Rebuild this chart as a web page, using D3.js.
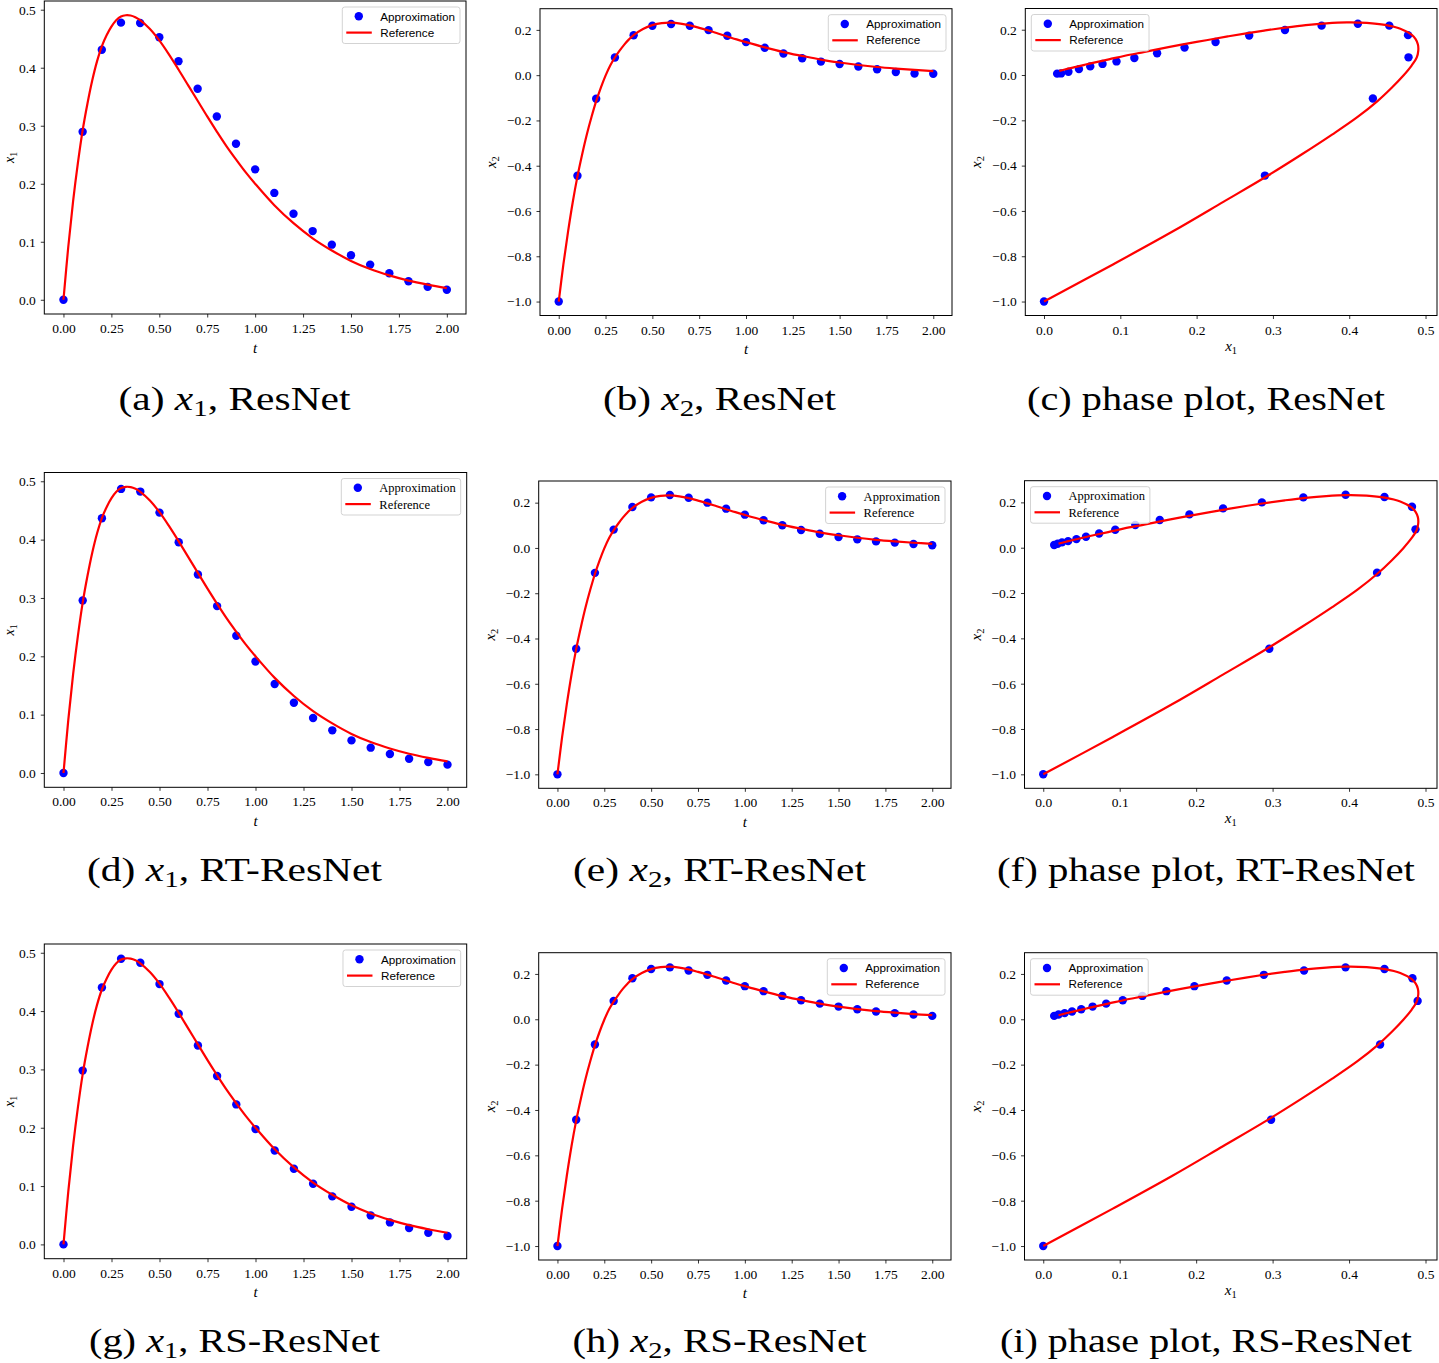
<!DOCTYPE html>
<html><head><meta charset="utf-8">
<script src="https://cdn.jsdelivr.net/npm/d3@7"></script>
<style>
body{margin:0;background:#fff;}
svg{display:block;}
</style></head><body>
<svg id="fig" width="1439" height="1363"></svg>
<script>
// ---------------- data ----------------
const tApprox = [0,0.1,0.2,0.3,0.4,0.5,0.6,0.7,0.8,0.9,1.0,1.1,1.2,1.3,1.4,1.5,1.6,1.7,1.8,1.9,2.0];

const x1ResNet = [0,0.2895,0.431,0.4777,0.4771,0.4525,0.4113,0.3638,0.3158,0.2689,0.2248,0.1842,0.1482,0.1184,0.095,0.0767,0.0606,0.0458,0.032,0.0223,0.0172];
const x2ResNet = [-1.0,-0.444,-0.104,0.078,0.176,0.218,0.226,0.218,0.199,0.174,0.146,0.121,0.096,0.075,0.060,0.049,0.038,0.026,0.014,0.007,0.006];

const x1RT = [0,0.2957,0.4366,0.4869,0.4823,0.4463,0.3955,0.3402,0.286,0.2352,0.1912,0.1524,0.1204,0.0942,0.0731,0.0559,0.0434,0.0325,0.0245,0.0188,0.0143];
const x2RT = [-1.0,-0.4456,-0.110,0.081,0.181,0.2235,0.234,0.222,0.200,0.1735,0.147,0.122,0.100,0.079,0.063,0.0485,0.038,0.029,0.0235,0.0176,0.0118];

const x1RS = [0,0.298,0.4406,0.4897,0.4829,0.4463,0.3954,0.3411,0.2886,0.24,0.1977,0.1611,0.1297,0.104,0.0823,0.0646,0.0497,0.0377,0.028,0.02,0.0143];
const x2RS = [-1.0,-0.443,-0.111,0.081,0.181,0.222,0.229,0.215,0.196,0.171,0.146,0.124,0.103,0.084,0.069,0.056,0.044,0.034,0.027,0.021,0.015];

const tRef  = [0,0.025,0.05,0.075,0.1,0.125,0.15,0.175,0.2,0.225,0.25,0.275,0.3,0.325,0.35,0.375,0.4,0.45,0.5,0.55,0.6,0.65,0.7,0.75,0.8,0.85,0.9,0.95,1.0,1.1,1.2,1.3,1.4,1.5,1.6,1.7,1.8,1.9,2.0];
const x1Ref = [0,0.091,0.169,0.235,0.292,0.338,0.378,0.411,0.437,0.456,0.471,0.482,0.4885,0.4905,0.490,0.487,0.482,0.467,0.447,0.423,0.397,0.370,0.343,0.316,0.290,0.265,0.242,0.220,0.200,0.163,0.132,0.106,0.085,0.067,0.053,0.042,0.033,0.026,0.020];
const x2Ref = [-1.0,-0.835,-0.69,-0.56,-0.447,-0.35,-0.262,-0.185,-0.115,-0.055,-0.002,0.043,0.078,0.108,0.135,0.158,0.177,0.204,0.221,0.230,0.232,0.228,0.220,0.209,0.197,0.184,0.171,0.158,0.146,0.123,0.102,0.085,0.069,0.056,0.045,0.036,0.029,0.023,0.018];

const timeTicks  = [0,0.25,0.5,0.75,1.0,1.25,1.5,1.75,2.0];
const x1Ticks    = [0,0.1,0.2,0.3,0.4,0.5];
const x2Ticks    = [-1.0,-0.8,-0.6,-0.4,-0.2,0.0,0.2];
const phaseTicks = [0,0.1,0.2,0.3,0.4,0.5];

const seriesNames = ["Approximation","Reference"];
const methods = ["ResNet","RT-ResNet","RS-ResNet"];
const letters = [["a","b","c"],["d","e","f"],["g","h","i"]];

// ---------------- layout ----------------
const rowsData = [
  {x1:x1ResNet, x2:x2ResNet, legendFont:"sans"},
  {x1:x1RT, x2:x2RT, legendFont:"serif"},
  {x1:x1RS, x2:x2RS, legendFont:"sans"}
];
const boxes = [
  [[44.3,1,466,314],[540,8.7,952,315.5],[1025.3,8.5,1437,315.5]],
  [[44.3,472.5,466.7,787.3],[538.7,481,951,788.3],[1024.5,480.7,1437,788.3]],
  [[44.3,944,466.7,1258.7],[538.7,952.7,951,1260],[1024.5,952.7,1437,1260]]
];
const capCX = [234.5,719.5,1206];
const capBase = [410,881,1352];
const capW = [[232,233,358],[295,293,418],[291,294,412]];

const svg = d3.select("#fig");
svg.append("rect").attr("width",1439).attr("height",1363).attr("fill","#fff");

function padDomain(vals){
  const e = d3.extent(vals); const p = (e[1]-e[0])*0.05;
  return [e[0]-p, e[1]+p];
}

function mathLabel(sel, v, sub, fs){
  sel.append("tspan").attr("font-style","italic").text(v);
  sel.append("tspan").attr("font-size",fs*0.7).attr("dy",fs*0.2).text(sub);
}

function drawPanel(r, c){
  const [L,T,R,B] = boxes[r][c];
  const w = R-L, h = B-T;
  const rd = rowsData[r];
  let ax, ay, rx, ry, xt, yt, xfmt, yfmt, kind;
  if (c===0){ kind="x1"; ax=tApprox; ay=rd.x1; rx=tRef; ry=x1Ref; xt=timeTicks; yt=x1Ticks; xfmt=d3.format(".2f"); yfmt=d3.format(".1f"); }
  else if (c===1){ kind="x2"; ax=tApprox; ay=rd.x2; rx=tRef; ry=x2Ref; xt=timeTicks; yt=x2Ticks; xfmt=d3.format(".2f"); yfmt=d3.format(".1f"); }
  else { kind="phase"; ax=rd.x1; ay=rd.x2; rx=x1Ref; ry=x2Ref; xt=phaseTicks; yt=x2Ticks; xfmt=d3.format(".1f"); yfmt=d3.format(".1f"); }

  const x = d3.scaleLinear().domain(padDomain(ax.concat(rx))).range([0,w]);
  const y = d3.scaleLinear().domain(padDomain(ay.concat(ry))).range([h,0]);

  const g = svg.append("g").attr("transform",`translate(${L},${T})`);

  // dots
  g.append("g").selectAll("circle").data(ax.map((v,i)=>[v,ay[i]])).join("circle")
    .attr("cx",d=>x(d[0])).attr("cy",d=>y(d[1])).attr("r",4.2).attr("fill","#0000ff");

  // reference line
  const line = d3.line().x(d=>x(d[0])).y(d=>y(d[1])).curve(d3.curveCatmullRom.alpha(0.5));
  g.append("path").datum(rx.map((v,i)=>[v,ry[i]])).attr("d",line)
    .attr("fill","none").attr("stroke","#ff0000").attr("stroke-width",2.2).attr("stroke-linejoin","round");

  // axes
  const xa = g.append("g").attr("transform",`translate(0,${h})`)
    .call(d3.axisBottom(x).tickValues(xt).tickFormat(xfmt).tickSize(3.5).tickPadding(6));
  const ya = g.append("g")
    .call(d3.axisLeft(y).tickValues(yt).tickFormat(yfmt).tickSize(3.5).tickPadding(5));
  [xa,ya].forEach(a=>{
    a.select(".domain").remove();
    a.selectAll("line").attr("stroke","#000").attr("stroke-width",0.8);
    a.selectAll("text").attr("font-family","'Liberation Serif', serif").attr("font-size",13.5).attr("fill","#000");
  });

  // frame
  g.append("rect").attr("width",w).attr("height",h).attr("fill","none").attr("stroke","#000").attr("stroke-width",1);

  // x label
  const xl = g.append("text").attr("text-anchor","middle").attr("x",w/2)
    .attr("font-family","'Liberation Serif', serif").attr("font-size",15).attr("fill","#000");
  if (kind==="phase"){ xl.attr("y",h+35); mathLabel(xl,"x","1",15); }
  else { xl.attr("y",h+38.5).attr("font-style","italic").text("t"); }

  // y label
  const yoff = kind==="x1" ? 30.5 : 44;
  const yfs = kind==="x1" ? 14 : 15;
  const yl = g.append("text").attr("text-anchor","middle")
    .attr("transform",`translate(${-yoff},${h/2}) rotate(-90)`)
    .attr("font-family","'Liberation Serif', serif").attr("font-size",yfs).attr("fill","#000");
  mathLabel(yl,"x", kind==="x1" ? "1" : "2", yfs);

  // legend
  const serif = rd.legendFont==="serif";
  const fam = serif ? "'Liberation Serif', serif" : "'Liberation Sans', sans-serif";
  const fs = serif ? 12.5 : 11.7;
  const lg = g.append("g");
  const tmp = lg.append("text").attr("font-family",fam).attr("font-size",fs).text(seriesNames[0]);
  const tw = tmp.node().getComputedTextLength(); tmp.remove();
  const bw = 38 + tw + 5, bh = 36.5;
  const bx = kind==="phase" ? 6 : w-6-bw;
  lg.attr("transform",`translate(${bx},6)`);
  lg.append("rect").attr("width",bw).attr("height",bh).attr("rx",2.5)
    .attr("fill","#fff").attr("fill-opacity",0.8).attr("stroke","#d3d3d3").attr("stroke-width",1);
  lg.append("circle").attr("cx",16.5).attr("cy",9.3).attr("r",4.2).attr("fill","#0000ff");
  lg.append("line").attr("x1",4).attr("x2",29.5).attr("y1",25.6).attr("y2",25.6).attr("stroke","#ff0000").attr("stroke-width",2.2);
  lg.append("text").attr("x",38).attr("y",9.3+fs*0.36).attr("font-family",fam).attr("font-size",fs).attr("fill","#000").text(seriesNames[0]);
  lg.append("text").attr("x",38).attr("y",25.6+fs*0.36).attr("font-family",fam).attr("font-size",fs).attr("fill","#000").text(seriesNames[1]);

  // caption
  const fsC = 34;
  const cap = svg.append("text").attr("x",capCX[c]).attr("y",capBase[r]).attr("text-anchor","middle")
    .attr("font-family","'Liberation Serif', serif").attr("font-size",fsC).attr("fill","#000")
    .attr("textLength",capW[r][c]).attr("lengthAdjust","spacingAndGlyphs");
  cap.append("tspan").text(`(${letters[r][c]}) `);
  if (kind==="phase"){
    cap.append("tspan").text(`phase plot, ${methods[r]}`);
  } else {
    cap.append("tspan").attr("font-style","italic").text("x");
    cap.append("tspan").attr("font-size",fsC*0.7).attr("dy",fsC*0.18).text(kind==="x1"?"1":"2");
    cap.append("tspan").attr("dy",-fsC*0.18).text(`, ${methods[r]}`);
  }
}

for (let r=0;r<3;r++) for (let c=0;c<3;c++) drawPanel(r,c);
</script>
</body></html>
